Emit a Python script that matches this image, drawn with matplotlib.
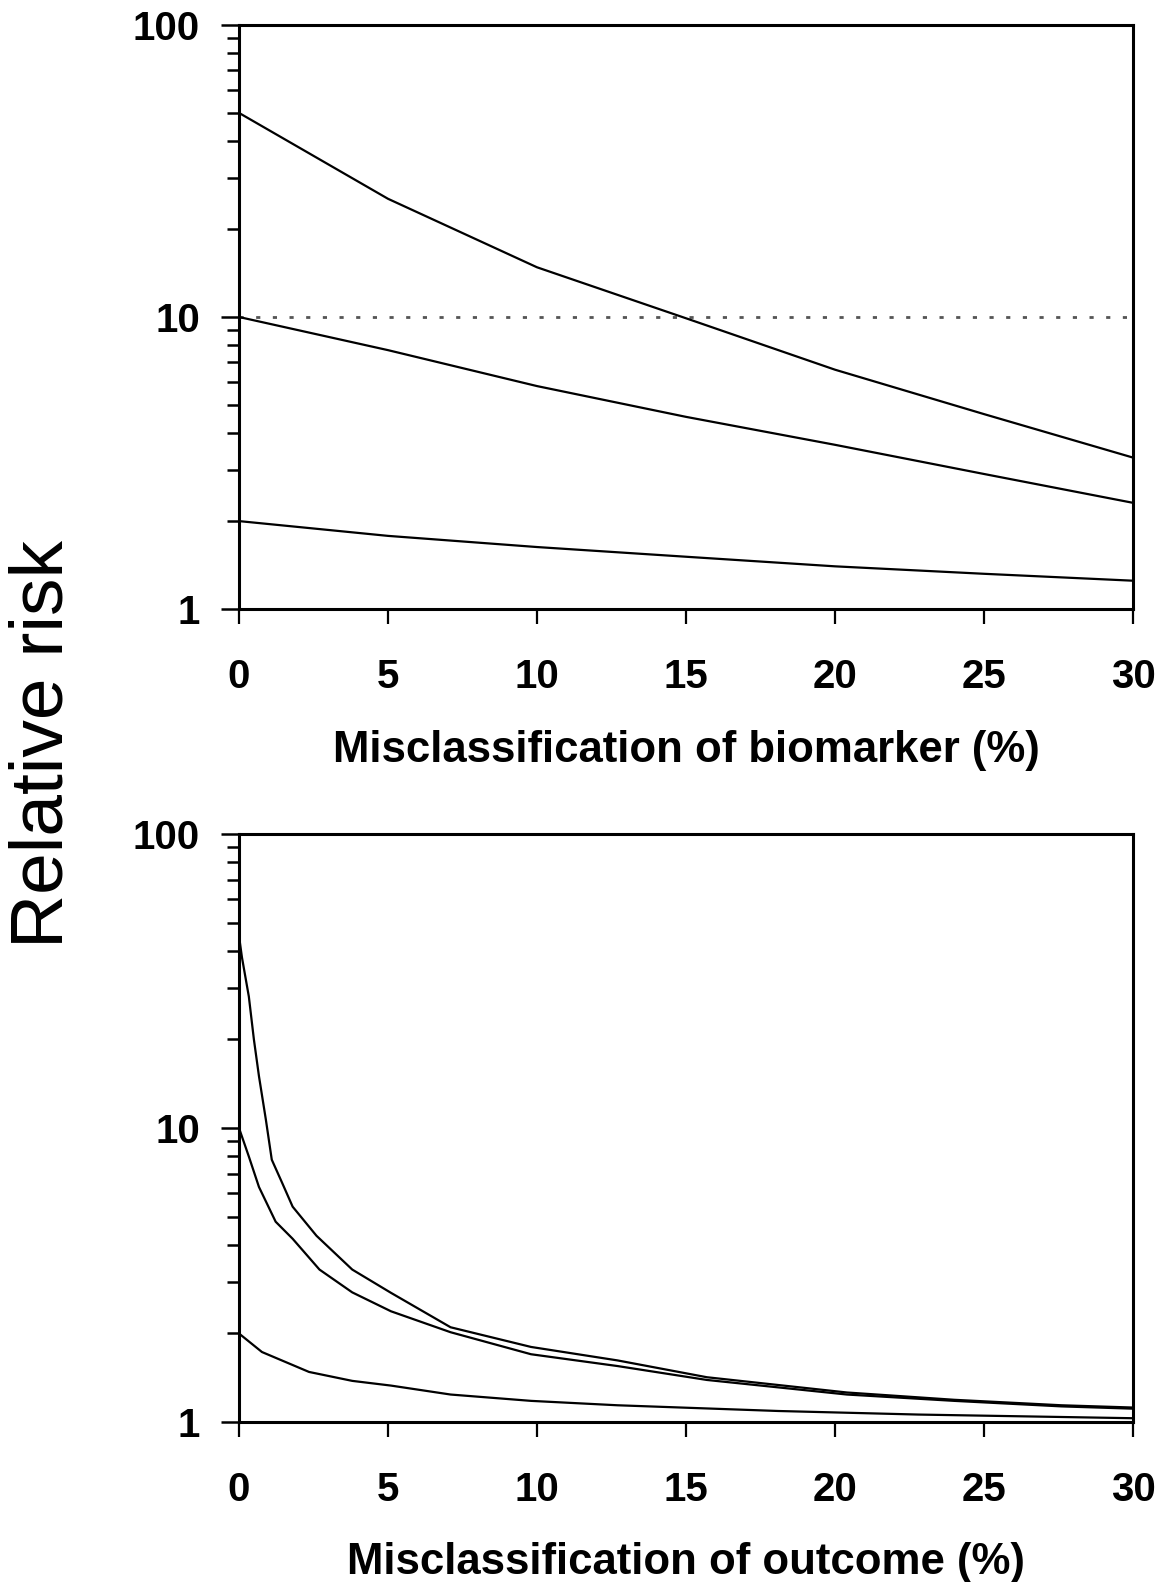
import matplotlib
matplotlib.use("Agg")
import matplotlib.pyplot as plt
from matplotlib.ticker import FixedLocator, NullFormatter, FixedFormatter
from matplotlib.font_manager import FontProperties

# ---- data: top panel (misclassification of biomarker) ----
bio_x = [0, 5, 10, 15, 20, 25, 30]
bio_rr50 = [50, 25.4, 14.8, 9.9, 6.6, 4.65, 3.3]
bio_rr10 = [10, 7.7, 5.8, 4.55, 3.65, 2.9, 2.31]
bio_rr2 = [2.0, 1.78, 1.63, 1.51, 1.40, 1.32, 1.25]
ref_level = 10

# ---- data: bottom panel (misclassification of outcome) ----
out_x50 = [0, 0.1, 0.33, 0.5, 0.67, 0.9, 1.1, 1.45, 1.8, 2.6, 3.8, 5.1, 7.1,
           9.8, 12.7, 15.7, 20.4, 24, 27.6, 30]
out_rr50 = [45, 38, 28, 20, 15, 10.7, 7.8, 6.5, 5.4, 4.3, 3.3, 2.75, 2.1,
            1.80, 1.62, 1.42, 1.26, 1.19, 1.14, 1.12]
out_x10 = [0, 0.33, 0.67, 1.23, 1.8, 2.7, 3.8, 5.1, 7.1, 9.8, 12.7, 15.7,
           20.4, 24, 27.6, 30]
out_rr10 = [10, 8.0, 6.3, 4.8, 4.2, 3.3, 2.76, 2.38, 2.02, 1.70, 1.55, 1.39,
            1.24, 1.18, 1.13, 1.11]
out_x2 = [0, 0.77, 2.35, 3.8, 5.1, 7.1, 9.8, 12.7, 18.1, 22.8, 27.6, 30]
out_rr2 = [2.0, 1.73, 1.48, 1.38, 1.33, 1.24, 1.18, 1.14, 1.09, 1.06, 1.04, 1.03]

x_ticks = [0, 5, 10, 15, 20, 25, 30]
y_major = [1, 10, 100]
y_major_labels = ["1", "10", "100"]
y_minor = [2, 3, 4, 5, 6, 7, 8, 9, 20, 30, 40, 50, 60, 70, 80, 90]
xlabel_top = "Misclassification of biomarker (%)"
xlabel_bottom = "Misclassification of outcome (%)"
ylabel = "Relative risk"

W, H = 1160, 1582
fig = plt.figure(figsize=(W / 100, H / 100), dpi=100)
fig.patch.set_facecolor("white")

tick_font = dict(family="Liberation Sans", weight="bold", size=29)
label_font = dict(family="Liberation Sans", weight="bold", size=31.5)


def style_axes(ax, xlabel, labelpad):
    ax.set_yscale("log")
    ax.set_xlim(0, 30)
    ax.set_ylim(1, 100)
    for s in ax.spines.values():
        s.set_linewidth(2.2)
        s.set_color("black")
    ax.xaxis.set_major_locator(FixedLocator(x_ticks))
    ax.set_xticklabels([str(v) for v in x_ticks], fontdict=tick_font)
    ax.yaxis.set_major_locator(FixedLocator(y_major))
    ax.yaxis.set_major_formatter(FixedFormatter(y_major_labels))
    ax.yaxis.set_minor_locator(FixedLocator(y_minor))
    ax.yaxis.set_minor_formatter(NullFormatter())
    for lab in ax.get_yticklabels():
        lab.set_fontproperties(FontProperties(
            family="Liberation Sans", weight="bold", size=29))
    ax.tick_params(axis="x", which="major", direction="out", length=11,
                   width=1.6, pad=24)
    ax.tick_params(axis="y", which="major", direction="out", length=13,
                   width=1.8, pad=15)
    ax.tick_params(axis="y", which="minor", direction="out", length=8.5,
                   width=1.8)
    ax.set_xlabel(xlabel, fontdict=label_font, labelpad=labelpad)


# top axes
ax1 = fig.add_axes([239 / W, 1 - 609 / H, 894 / W, 584 / H])
ax1.axhline(ref_level, color="#555555", lw=2, linestyle=(0, (1.5, 4.5)))
for ys in (bio_rr50, bio_rr10, bio_rr2):
    ax1.plot(bio_x, ys, color="black", lw=1.6)
style_axes(ax1, xlabel_top, 25)

# bottom axes
ax2 = fig.add_axes([239 / W, 1 - 1422 / H, 894 / W, 588 / H])
ax2.plot(out_x50, out_rr50, color="black", lw=1.6)
ax2.plot(out_x10, out_rr10, color="black", lw=1.6)
ax2.plot(out_x2, out_rr2, color="black", lw=1.6)
style_axes(ax2, xlabel_bottom, 24)

fig.text(43 / W, 1 - 744 / H, ylabel, rotation=90, ha="center", va="center",
         family="Liberation Sans", size=54)

fig.savefig("out.png", dpi=100, facecolor="white")
